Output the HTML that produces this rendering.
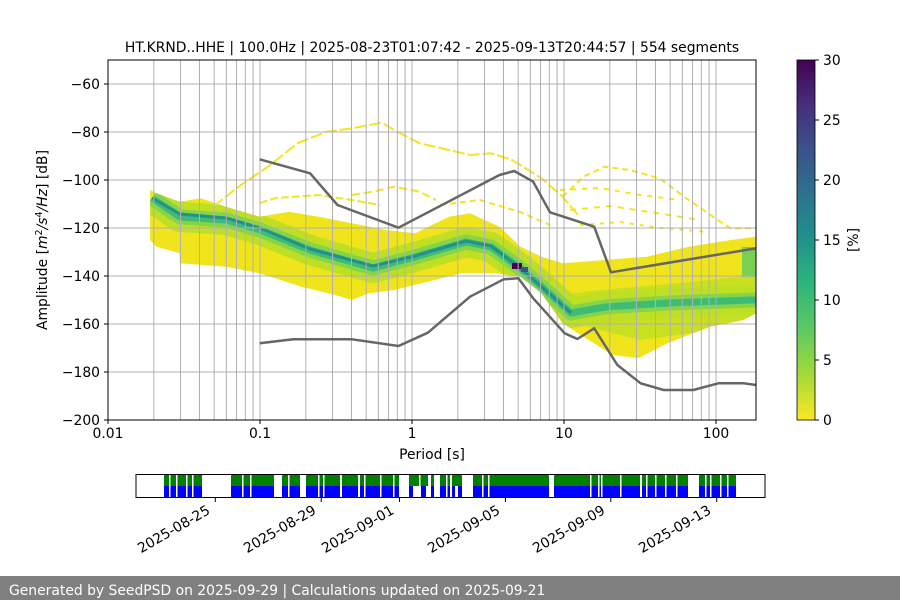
<!DOCTYPE html>
<html><head><meta charset="utf-8"><style>
html,body{margin:0;padding:0;background:#fff;}
svg{display:block;font-family:"DejaVu Sans","Liberation Sans",sans-serif;}
</style></head><body>
<svg width="900" height="600" viewBox="0 0 900 600" xmlns="http://www.w3.org/2000/svg">
<defs>
<linearGradient id="vir" x1="0" y1="1" x2="0" y2="0">
<stop offset="0" stop-color="#fde725"/><stop offset="0.13" stop-color="#a0da39"/><stop offset="0.25" stop-color="#5ec962"/><stop offset="0.38" stop-color="#2fb47c"/><stop offset="0.5" stop-color="#21918c"/><stop offset="0.63" stop-color="#2c728e"/><stop offset="0.75" stop-color="#3b528b"/><stop offset="0.88" stop-color="#472d7b"/><stop offset="1" stop-color="#440154"/>
</linearGradient>
<clipPath id="env"><polygon points="150.1,190 156.4,193.3 179.6,201.7 200.6,198.3 225.9,206.7 259.6,216.7 289,211.7 318.5,216.7 352,223.3 385.8,230 415.2,233.3 448.9,216.7 470,213.3 499.5,226.7 520.5,246.7 541.5,256.7 562.6,263.3 604.7,260 646.7,256.7 688.8,246.7 730.9,240 756,236.7 756,313.3 743.4,320 709.7,326.7 667.6,343.3 638.1,358.3 613,355 583.5,336.7 562.6,323.3 541.5,293.3 520.5,276.7 495.3,273.3 461.6,273.3 427.9,281.7 394.2,290 368.9,293.3 352,300 335.3,295 301.6,286.7 259.6,273.3 225.9,266.7 179.6,263.3 179.6,253.3 156.4,246.7 150.1,240"/></clipPath>
<clipPath id="ax"><rect x="108" y="60" width="648" height="360"/></clipPath>
</defs>

<text x="432" y="52" font-size="13.9" text-anchor="middle" fill="#000">HT.KRND..HHE | 100.0Hz | 2025-08-23T01:07:42 - 2025-09-13T20:44:57 | 554 segments</text>

<g clip-path="url(#ax)">
<g clip-path="url(#env)">
<rect x="108" y="60" width="648" height="360" fill="#f0e51c"/>
<polygon points="560,295 600,290 680,283 756,275 756,325 700,332 640,340 600,330 560,318" fill="#c8e020"/>
<polyline points="152,198 180,217 226,220 260,230 310,250 373,268 415,257 466,242 491,247 520,268 542,287 571,313 605,307 668,303 752,300 760,300" fill="none" stroke="#bfdf24" stroke-width="30" stroke-linejoin="round"/>
<polyline points="152,198 180,217 226,220 260,230 310,250 373,268 415,257 466,242 491,247 520,268 542,287 571,313 605,307 668,303 752,300 760,300" fill="none" stroke="#86d549" stroke-width="15" stroke-linejoin="round"/>
<polyline points="152,198 180,217 226,220 260,230 310,250 373,268 415,257 466,242 491,247 520,268 542,287 571,313 605,307 668,303 752,300 760,300" fill="none" stroke="#3fbc73" stroke-width="7" stroke-linejoin="round"/>
<polyline points="152,198 180,214 226,218 260,228 310,249 373,266 415,256 466,241 491,246 520,268 542,287 571,313" fill="none" stroke="#22908c" stroke-width="3" stroke-linejoin="round"/>
<polyline points="742,262 756,262" stroke="#7ad151" stroke-width="30" fill="none"/>
<rect x="512" y="263" width="10" height="6" fill="#440154"/>
<rect x="521" y="267" width="7" height="5" fill="#3b528b"/>
</g>
<g fill="none" stroke="#f3e61c" stroke-width="2">
<polyline points="213.2,206.7 238.5,186.7 268,166.7 297.4,143.3 326.9,131.7 352,128.3 381.6,122.7 394.2,130 419.5,143.3 448.9,150 470,155 491.1,153.3 512.1,160 541.5,178.3 562.6,196.7 579.4,216.7" stroke-dasharray="12 3"/>
<polyline points="562.6,196.7 583.5,176.7 604.7,166.7 629.9,170 659.4,178.3 688.8,200 722.5,223.3 730.9,228.3 756,228.3" stroke-dasharray="6 4"/>
<polyline points="352,195 373,191.7 394.2,186.7 419.5,191.7 436.3,200" stroke-dasharray="8 4"/>
<polyline points="259.6,203 276,198 318.5,195 352,200 380,205" stroke-dasharray="8 3"/>
<polyline points="560,190 600,188 640,195 680,200" stroke-dasharray="5 6"/>
<polyline points="570,210 610,206 650,212 700,220" stroke-dasharray="6 6"/>
<polyline points="580,225 620,222 660,228 710,232" stroke-dasharray="4 6"/>
<polyline points="440,205 480,200 520,212 550,225" stroke-dasharray="6 4"/>
</g>
</g>

<g stroke="#b0b0b0" stroke-width="1">
<line x1="153.8" y1="60" x2="153.8" y2="420"/><line x1="180.5" y1="60" x2="180.5" y2="420"/><line x1="199.5" y1="60" x2="199.5" y2="420"/><line x1="214.2" y1="60" x2="214.2" y2="420"/><line x1="226.3" y1="60" x2="226.3" y2="420"/><line x1="236.5" y1="60" x2="236.5" y2="420"/><line x1="245.3" y1="60" x2="245.3" y2="420"/><line x1="253.1" y1="60" x2="253.1" y2="420"/><line x1="260" y1="60" x2="260" y2="420"/>
<line x1="305.8" y1="60" x2="305.8" y2="420"/><line x1="332.5" y1="60" x2="332.5" y2="420"/><line x1="351.5" y1="60" x2="351.5" y2="420"/><line x1="366.2" y1="60" x2="366.2" y2="420"/><line x1="378.3" y1="60" x2="378.3" y2="420"/><line x1="388.5" y1="60" x2="388.5" y2="420"/><line x1="397.3" y1="60" x2="397.3" y2="420"/><line x1="405.1" y1="60" x2="405.1" y2="420"/><line x1="412" y1="60" x2="412" y2="420"/>
<line x1="457.8" y1="60" x2="457.8" y2="420"/><line x1="484.5" y1="60" x2="484.5" y2="420"/><line x1="503.5" y1="60" x2="503.5" y2="420"/><line x1="518.2" y1="60" x2="518.2" y2="420"/><line x1="530.3" y1="60" x2="530.3" y2="420"/><line x1="540.5" y1="60" x2="540.5" y2="420"/><line x1="549.3" y1="60" x2="549.3" y2="420"/><line x1="557.1" y1="60" x2="557.1" y2="420"/><line x1="564" y1="60" x2="564" y2="420"/>
<line x1="609.8" y1="60" x2="609.8" y2="420"/><line x1="636.5" y1="60" x2="636.5" y2="420"/><line x1="655.5" y1="60" x2="655.5" y2="420"/><line x1="670.2" y1="60" x2="670.2" y2="420"/><line x1="682.3" y1="60" x2="682.3" y2="420"/><line x1="692.5" y1="60" x2="692.5" y2="420"/><line x1="701.3" y1="60" x2="701.3" y2="420"/><line x1="709.1" y1="60" x2="709.1" y2="420"/><line x1="716" y1="60" x2="716" y2="420"/>
<line x1="108" y1="84" x2="756" y2="84"/><line x1="108" y1="132" x2="756" y2="132"/><line x1="108" y1="180" x2="756" y2="180"/><line x1="108" y1="228" x2="756" y2="228"/><line x1="108" y1="276" x2="756" y2="276"/><line x1="108" y1="324" x2="756" y2="324"/><line x1="108" y1="372" x2="756" y2="372"/>
</g>

<g fill="none" stroke="#666" stroke-width="2.5" stroke-linejoin="round" clip-path="url(#ax)">
<polyline points="259.6,159.3 310.1,173.3 337.5,205 398.5,227.7 499.5,175 514.2,171 533.2,181.7 550,212.3 594.2,226.7 611,272.3 756,248.3"/>
<polyline points="259.6,343.3 293.3,339.3 352,339.3 398.5,346 427.9,332.7 470,296.7 503.7,279.3 518.4,278.3 533.2,298.3 564.7,333.3 577.4,339 594.2,328.3 617.4,365 640.6,383.3 663.7,390 693.2,390 718.4,383.3 743.6,383.3 756,385"/>
</g>

<rect x="108" y="60" width="648" height="360" fill="none" stroke="#000" stroke-width="1"/>
<g stroke="#000">
<line x1="104" y1="84" x2="108" y2="84"/><line x1="104" y1="132" x2="108" y2="132"/><line x1="104" y1="180" x2="108" y2="180"/><line x1="104" y1="228" x2="108" y2="228"/><line x1="104" y1="276" x2="108" y2="276"/><line x1="104" y1="324" x2="108" y2="324"/><line x1="104" y1="372" x2="108" y2="372"/><line x1="104" y1="420" x2="108" y2="420"/>
<line x1="108" y1="420" x2="108" y2="424"/><line x1="260" y1="420" x2="260" y2="424"/><line x1="412" y1="420" x2="412" y2="424"/><line x1="564" y1="420" x2="564" y2="424"/><line x1="716" y1="420" x2="716" y2="424"/>
</g>
<g font-size="13.9" fill="#000" text-anchor="end">
<text x="100" y="89">−60</text><text x="100" y="137">−80</text><text x="100" y="185">−100</text><text x="100" y="233">−120</text><text x="100" y="281">−140</text><text x="100" y="329">−160</text><text x="100" y="377">−180</text><text x="100" y="425">−200</text>
</g>
<g font-size="13.9" fill="#000" text-anchor="middle">
<text x="108" y="438">0.01</text><text x="260" y="438">0.1</text><text x="412" y="438">1</text><text x="564" y="438">10</text><text x="716" y="438">100</text>
<text x="432" y="459">Period [s]</text>
</g>
<text transform="translate(47,240) rotate(-90)" font-size="13.9" text-anchor="middle">Amplitude [<tspan font-style="italic">m</tspan><tspan font-size="9.5" dy="-5">2</tspan><tspan dy="5" font-style="italic">/s</tspan><tspan font-size="9.5" dy="-5">4</tspan><tspan dy="5" font-style="italic">/Hz</tspan>] [dB]</text>

<rect x="797" y="60" width="18" height="360" fill="url(#vir)"/>
<rect x="797" y="60" width="18" height="360" fill="none" stroke="#000" stroke-width="0.8"/>
<g stroke="#000"><line x1="815" y1="60" x2="819" y2="60"/><line x1="815" y1="120" x2="819" y2="120"/><line x1="815" y1="180" x2="819" y2="180"/><line x1="815" y1="240" x2="819" y2="240"/><line x1="815" y1="300" x2="819" y2="300"/><line x1="815" y1="360" x2="819" y2="360"/><line x1="815" y1="420" x2="819" y2="420"/></g>
<g font-size="13.9" fill="#000"><text x="823" y="65">30</text><text x="823" y="125">25</text><text x="823" y="185">20</text><text x="823" y="245">15</text><text x="823" y="305">10</text><text x="823" y="365">5</text><text x="823" y="425">0</text></g>
<text transform="translate(858,240) rotate(-90)" font-size="13.9" text-anchor="middle">[%]</text>

<g>
<rect x="164" y="475" width="38" height="11" fill="#008000"/><rect x="231" y="475" width="69" height="11" fill="#008000"/><rect x="306" y="475" width="93" height="11" fill="#008000"/><rect x="409" y="475" width="53" height="11" fill="#008000"/><rect x="473" y="475" width="263" height="11" fill="#008000"/>
<rect x="164" y="486" width="38" height="11" fill="#0000ff"/><rect x="231" y="486" width="69" height="11" fill="#0000ff"/><rect x="306" y="486" width="93" height="11" fill="#0000ff"/><rect x="409" y="486" width="53" height="11" fill="#0000ff"/><rect x="473" y="486" width="263" height="11" fill="#0000ff"/>
<g fill="#fff">
<rect x="169" y="475" width="1.5" height="22"/><rect x="176" y="475" width="1.5" height="22"/><rect x="186" y="475" width="1.5" height="22"/><rect x="192" y="475" width="1.5" height="22"/><rect x="242" y="475" width="1.5" height="22"/><rect x="250" y="475" width="1.5" height="22"/><rect x="274" y="475" width="8" height="22"/><rect x="288" y="475" width="1.5" height="22"/><rect x="318" y="475" width="1.5" height="22"/><rect x="323" y="475" width="1.5" height="22"/><rect x="340" y="475" width="2" height="22"/><rect x="358" y="475" width="2" height="22"/><rect x="364" y="475" width="1.5" height="22"/><rect x="380" y="475" width="1.5" height="22"/><rect x="393" y="475" width="1.5" height="22"/><rect x="419" y="475" width="1.5" height="22"/><rect x="428" y="475" width="3" height="22"/><rect x="434" y="475" width="6" height="22"/><rect x="446" y="475" width="1.5" height="22"/><rect x="450" y="475" width="2" height="22"/><rect x="482" y="475" width="1.5" height="22"/><rect x="488" y="475" width="1.5" height="22"/><rect x="549" y="475" width="5" height="22"/><rect x="590" y="475" width="1.5" height="22"/><rect x="598" y="475" width="1.5" height="22"/><rect x="601" y="475" width="1.5" height="22"/><rect x="620" y="475" width="1.5" height="22"/><rect x="640" y="475" width="2" height="22"/><rect x="646" y="475" width="1.5" height="22"/><rect x="655" y="475" width="1.5" height="22"/><rect x="665" y="475" width="1.5" height="22"/><rect x="676" y="475" width="1.5" height="22"/><rect x="688" y="475" width="11" height="22"/><rect x="705" y="475" width="1.5" height="22"/><rect x="710" y="475" width="1.5" height="22"/><rect x="720" y="475" width="1.5" height="22"/><rect x="727" y="475" width="1.5" height="22"/>
<rect x="413" y="486" width="8" height="11"/><rect x="426" y="486" width="2" height="11"/><rect x="455" y="486" width="3" height="11"/>
</g>
<rect x="136" y="474.5" width="629" height="23" fill="none" stroke="#000" stroke-width="1"/>
<g stroke="#000"><line x1="215.3" y1="498" x2="215.3" y2="502"/><line x1="321.2" y1="498" x2="321.2" y2="502"/><line x1="399.5" y1="498" x2="399.5" y2="502"/><line x1="505.4" y1="498" x2="505.4" y2="502"/><line x1="610.8" y1="498" x2="610.8" y2="502"/><line x1="716.7" y1="498" x2="716.7" y2="502"/></g>
<g font-size="13.9" fill="#000" text-anchor="end">
<text transform="translate(211,513) rotate(-30)">2025-08-25</text>
<text transform="translate(317,513) rotate(-30)">2025-08-29</text>
<text transform="translate(395,513) rotate(-30)">2025-09-01</text>
<text transform="translate(501,513) rotate(-30)">2025-09-05</text>
<text transform="translate(606,513) rotate(-30)">2025-09-09</text>
<text transform="translate(712,513) rotate(-30)">2025-09-13</text>
</g>
</g>

<rect x="0" y="576" width="900" height="24" fill="#808080"/>
<text x="9" y="595" font-size="13.9" fill="#fff">Generated by SeedPSD on 2025-09-29 | Calculations updated on 2025-09-21</text>
</svg>
</body></html>
